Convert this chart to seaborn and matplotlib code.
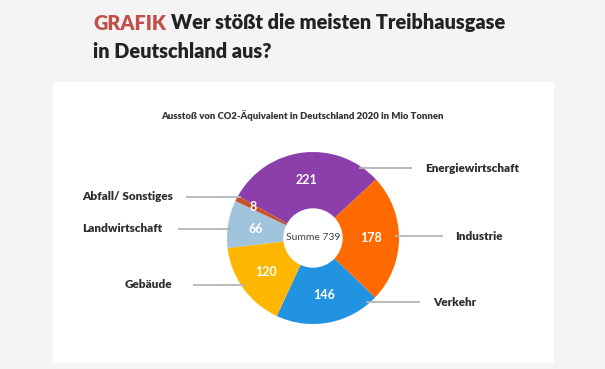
import numpy as np
import matplotlib; matplotlib.use("Agg")
import matplotlib.pyplot as plt
from matplotlib.patches import Rectangle, Circle
import seaborn as sns

# ── data ─────────────────────────────────────────────────────────────────────
sectors = ["Energiewirtschaft", "Industrie", "Verkehr", "Gebäude",
           "Landwirtschaft", "Abfall/ Sonstiges"]
values  = [221, 178, 146, 120, 66, 8]
colors  = ["#8c3fab", "#ff6a00", "#2193e0", "#ffb600", "#9fc4dc", "#c8502a"]

title_tag  = "GRAFIK"
title_rest = "Wer stößt die meisten Treibhausgase"
title_l2   = "in Deutschland aus?"
subtitle   = "Ausstoß von CO2-Äquivalent in Deutschland 2020 in Mio Tonnen"

# ── layout (pixel coords, y from top) ────────────────────────────────────────
W, H = 605, 369
CX, CY, R, R_IN = 313, 238, 86, 29
# label: (line y, line outer end x, text x, side)
label_pos = {
    "Energiewirtschaft": (168, 412, 425, "r"),
    "Industrie":         (236, 443, 455, "r"),
    "Verkehr":           (302, 420, 433, "r"),
    "Gebäude":           (285, 193, 172, "l"),
    "Landwirtschaft":    (229, 178, 162, "l"),
    "Abfall/ Sonstiges": (197, 186, 173, "l"),
}

sns.set_theme(style="white")
plt.rcParams["font.family"] = ["Lato", "DejaVu Sans"]

fig = plt.figure(figsize=(W / 100, H / 100), dpi=100, facecolor="#f4f4f4")
ax = fig.add_axes([0, 0, 1, 1])
ax.set_xlim(0, W); ax.set_ylim(0, H)
ax.set_aspect("equal"); ax.axis("off")
ax.patch.set_alpha(0)

def py(y):  # top-based pixel y -> data y
    return H - y

# white panel
ax.add_patch(Rectangle((53, py(362)), 500, 280, color="white", zorder=0))

# donut
total = sum(values)
start = 150.6
wedges, _ = ax.pie(values, colors=colors, startangle=start, counterclock=False,
                   center=(CX, py(CY)), radius=R, frame=True,
                   wedgeprops=dict(linewidth=0))
ax.set_xlim(0, W); ax.set_ylim(0, H); ax.axis("off")
ax.add_patch(Circle((CX, py(CY)), R_IN, color="white", zorder=5))
ax.text(CX, py(CY - 1), f"Summe {total}", ha="center", va="center",
        fontsize=7.5, color="#444444", zorder=6)

# value labels
for w, v in zip(wedges, values):
    mid = np.deg2rad((w.theta1 + w.theta2) / 2)
    rr = 67 if v < 20 else 58
    ax.text(CX + rr * np.cos(mid), py(CY) + rr * np.sin(mid), str(v),
            ha="center", va="center", fontsize=9, fontweight="bold",
            color="white", zorder=6)

# leader lines + sector names
for name in sectors:
    ly, lx_end, tx, side = label_pos[name]
    dy = CY - ly
    dx = np.sqrt(max(R ** 2 - dy ** 2, 0))
    x0 = CX + dx - 4 if side == "r" else CX - dx + 4
    ax.plot([x0, lx_end], [py(ly), py(ly)], color="#b5b5b5", lw=1.3,
            solid_capstyle="butt", zorder=1)
    ax.text(tx, py(ly), name, ha="left" if side == "r" else "right",
            va="center", fontsize=8.5, fontweight="heavy", color="#2e2e2e")

# titles
t1 = fig.text(93 / W, 1 - 23 / H, title_tag, ha="left", va="center",
              fontsize=14.3, fontweight="heavy", color="#c0504a")
fig.canvas.draw()
bb = t1.get_window_extent()
fig.text((bb.x1 + 5) / W, 1 - 23 / H, title_rest, ha="left", va="center",
         fontsize=14.3, fontweight="heavy", color="#222222")
fig.text(93 / W, 1 - 51 / H, title_l2, ha="left", va="center",
         fontsize=14.3, fontweight="heavy", color="#222222")
fig.text(302 / W, 1 - 116 / H, subtitle, ha="center", va="center",
         fontsize=6.8, fontweight="heavy", color="#333333")

fig.savefig("out.png", dpi=100, facecolor=fig.get_facecolor())
